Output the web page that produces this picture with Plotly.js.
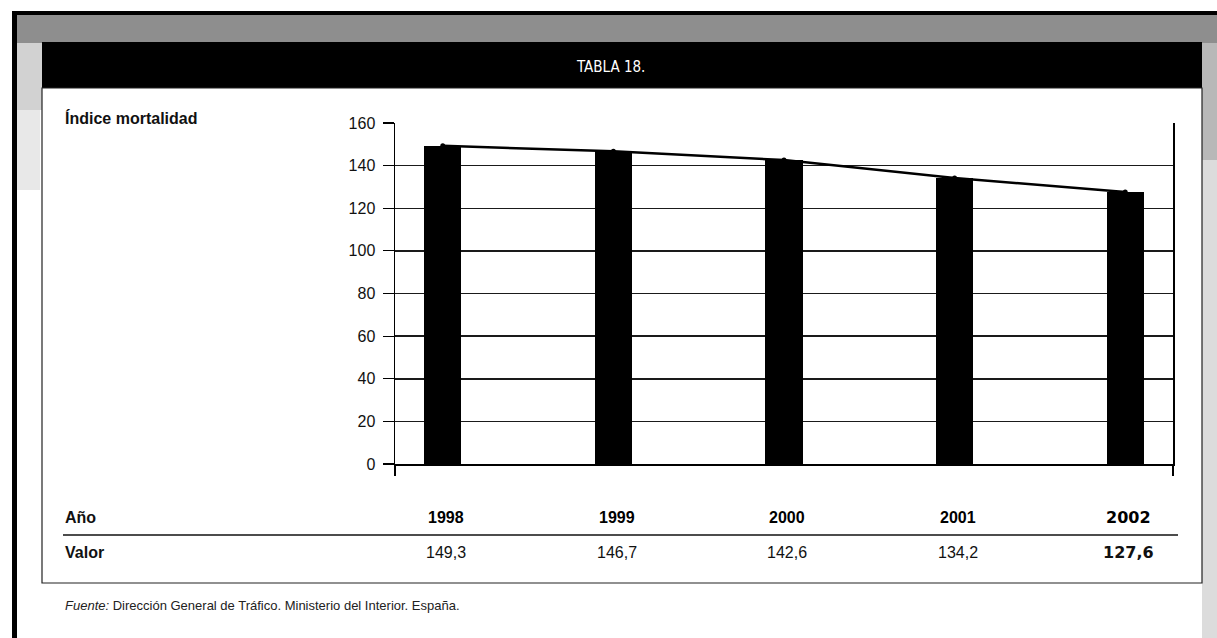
<!DOCTYPE html>
<html>
<head>
<meta charset="utf-8">
<script src="https://cdn.plot.ly/plotly-3.0.1.min.js"></script>
<style>
  html, body { margin: 0; padding: 0; background: #ffffff; }
  #chart { width: 1217px; height: 638px; }
</style>
</head>
<body>
<div id="chart"></div>
<script>
// ---- data ----
var years = [1998, 1999, 2000, 2001, 2002];
var values = [149.3, 146.7, 142.6, 134.2, 127.6];
var yTicks = [0, 20, 40, 60, 80, 100, 120, 140, 160];
var chartTitle = 'TABLA 18.';
var seriesLabel = 'Índice mortalidad';
var rowLabelYear = 'Año';
var rowLabelValue = 'Valor';
var sourceText = '<i>Fuente:</i> Dirección General de Tráfico. Ministerio del Interior. España.';

// ---- layout geometry (pixels) ----
var W = 1217, H = 638;
var PL = 395, PR = 1173, PT = 123, PB = 464;
function px(x) { return (x - PL) / (PR - PL); }
function py(y) { return (PB - y) / (PB - PT); }
function rect(x0, y0, x1, y1, fill, line) {
  return { type: 'rect', xref: 'paper', yref: 'paper', layer: 'below',
    x0: px(x0), x1: px(x1), y0: py(y1), y1: py(y0),
    fillcolor: fill, line: line || { width: 0 } };
}
function hline(x0, x1, y, w, c) {
  return { type: 'line', xref: 'paper', yref: 'paper', layer: 'below',
    x0: px(x0), x1: px(x1), y0: py(y), y1: py(y), line: { color: c, width: w } };
}

var FONT = 'Liberation Sans, Arial, Helvetica, sans-serif';
var xr = [1997.72, 2002.28];

var shapes = [
  rect(17, 15, 1217, 43, '#8e8e8e'),        // halftone top band
  rect(17, 43, 42, 110, '#d2d2d2'),          // left light strip (upper)
  rect(17, 110, 40, 190, '#e8e8e8'),         // left light strip (fading)
  rect(1202, 43, 1217, 160, '#b8b8b8'),      // right strip (upper)
  rect(1202, 160, 1217, 638, '#dcdcdc'),     // right strip (lower)
  rect(12, 11, 1217, 15, '#000000'),         // top black rule
  rect(12, 11, 17, 638, '#000000'),          // left black rule
  rect(42, 42, 1202, 88, '#000000'),         // header bar
  { type: 'rect', xref: 'paper', yref: 'paper', layer: 'below',
    x0: px(42), x1: px(1202), y0: py(583), y1: py(88),
    fillcolor: '#ffffff', line: { color: '#222', width: 1.2 } },
  hline(63, 1178, 535, 1.6, '#111')
];

var annotations = [
  { text: chartTitle, xref: 'paper', yref: 'paper', x: px(610), y: py(67),
    showarrow: false, xanchor: 'center', yanchor: 'middle',
    font: { family: 'Liberation Sans Narrow, DejaVu Sans Condensed, Arial Narrow, sans-serif', size: 15, color: '#ffffff' } },
  { text: '<b>' + seriesLabel + '</b>', xref: 'paper', yref: 'paper', x: px(63), y: py(118),
    showarrow: false, xanchor: 'left', yanchor: 'middle',
    font: { family: FONT, size: 16, color: '#111' } },
  { text: '<b>' + rowLabelYear + '</b>', xref: 'paper', yref: 'paper', x: px(63), y: py(517),
    showarrow: false, xanchor: 'left', yanchor: 'middle',
    font: { family: FONT, size: 16, color: '#111' } },
  { text: '<b>' + rowLabelValue + '</b>', xref: 'paper', yref: 'paper', x: px(63), y: py(552),
    showarrow: false, xanchor: 'left', yanchor: 'middle',
    font: { family: FONT, size: 16, color: '#111' } },
  { text: sourceText, xref: 'paper', yref: 'paper', x: px(63), y: py(605),
    showarrow: false, xanchor: 'left', yanchor: 'middle',
    font: { family: FONT, size: 13, color: '#222' } }
];

years.forEach(function (yr, i) {
  var last = (i === years.length - 1);
  annotations.push({
    text: '<b>' + yr + '</b>', xref: 'x', yref: 'paper', x: yr + 0.02, y: py(517),
    showarrow: false, xanchor: 'center', yanchor: 'middle',
    font: { family: last ? 'DejaVu Sans, ' + FONT : FONT, size: last ? 16 : 16, color: '#000' }
  });
  annotations.push({
    text: last ? '<b>' + values[i].toFixed(1).replace('.', ',') + '</b>'
               : values[i].toFixed(1).replace('.', ','),
    xref: 'x', yref: 'paper', x: yr + 0.02, y: py(552),
    showarrow: false, xanchor: 'center', yanchor: 'middle',
    font: { family: last ? 'DejaVu Sans, ' + FONT : FONT, size: 16, color: '#111' }
  });
});

var traces = [
  { type: 'bar', x: years, y: values, width: 0.217,
    marker: { color: '#000000', line: { width: 0 } }, hoverinfo: 'x+y' },
  { type: 'scatter', mode: 'lines+markers', x: years, y: values,
    line: { color: '#000000', width: 2.5 }, marker: { color: '#000', size: 5 },
    hoverinfo: 'x+y' }
];

var layout = {
  width: W, height: H,
  margin: { l: PL, r: W - PR, t: PT, b: H - PB, pad: 0 },
  paper_bgcolor: '#ffffff', plot_bgcolor: 'rgba(0,0,0,0)',
  showlegend: false,
  xaxis: {
    range: xr, showgrid: false, zeroline: false,
    showline: true, linecolor: '#000', linewidth: 1.5,
    tickvals: xr, ticktext: ['', ''], ticks: 'outside', ticklen: 10,
    tickcolor: '#000', tickwidth: 1.5, fixedrange: true
  },
  yaxis: {
    range: [0, 160], tickvals: yTicks, ticks: 'outside', ticklen: 11,
    tickcolor: '#000', tickwidth: 1.2,
    showgrid: true, gridcolor: '#1a1a1a', gridwidth: 1.5, zeroline: false,
    showline: true, linecolor: '#000', linewidth: 1.5, mirror: true,
    tickfont: { family: FONT, size: 16, color: '#111' }, ticklabelstandoff: 4,
    fixedrange: true
  },
  bargap: 0,
  shapes: shapes,
  annotations: annotations
};

Plotly.newPlot('chart', traces, layout, { displayModeBar: false, staticPlot: true });
</script>
</body>
</html>
